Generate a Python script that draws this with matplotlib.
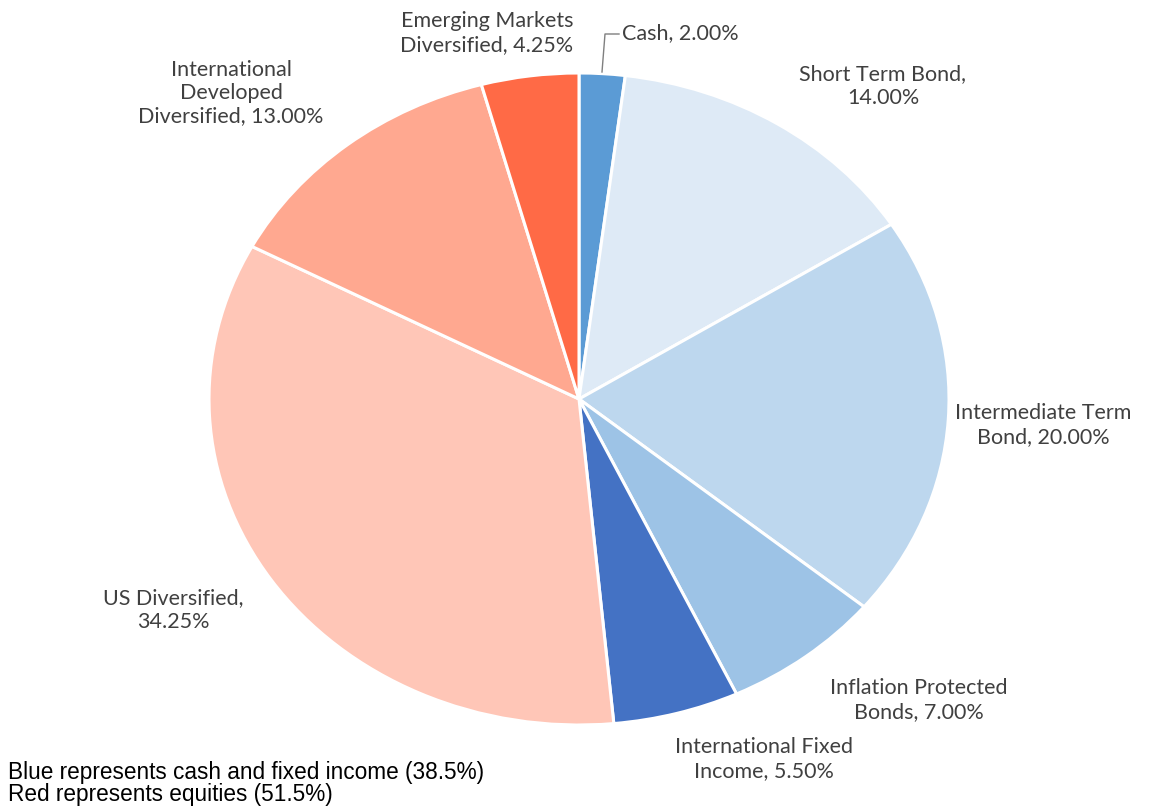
import matplotlib
matplotlib.use('Agg')
import matplotlib.pyplot as plt
from matplotlib.lines import Line2D

# slices, clockwise from 12 o'clock
names = ['Cash', 'Short Term Bond', 'Intermediate Term\nBond', 'Inflation Protected\nBonds',
         'International Fixed\nIncome', 'US Diversified', 'International\nDeveloped\nDiversified',
         'Emerging Markets\nDiversified']
seps = [', ', ',\n', ', ', ', ', ', ', ',\n', ', ', ', ']
values = [2.00, 14.00, 20.00, 7.00, 5.50, 34.25, 13.00, 4.25]
colors = ['#5B9BD5', '#DEEAF6', '#BDD7EE', '#9DC3E6', '#4472C4', '#FFC6B7', '#FFA890', '#FF6A46']

notes = ['Blue represents cash and fixed income (38.5%)', 'Red represents equities (51.5%)']

W, H = 1151, 806
cx, cy = 579, 399      # pie centre in pixels
rx, ry = 370, 326      # stretched like the original

fig = plt.figure(figsize=(W / 100, H / 100), dpi=100)
ax = fig.add_axes([0, 0, 1, 1])
ax.pie(values, colors=colors, startangle=90, counterclock=False,
       wedgeprops=dict(edgecolor='white', linewidth=2.2))
ax.set_aspect('auto')
ax.set_xlim(-cx / rx, (W - cx) / rx)
ax.set_ylim(-(H - cy) / ry, cy / ry)
ax.axis('off')

# label placement in pixels (centre of text block)
label_pos = [(622, 33), (883, 86), (1043, 425), (919, 700), (764, 759), (173, 610), (231, 93), (487, 33)]
lab_font = dict(family='Lato', fontsize=15.5, color='#404040', linespacing=1.2)
for i, (n, s, v) in enumerate(zip(names, seps, values)):
    x, y = label_pos[i]
    ha = 'left' if i == 0 else 'center'
    fig.text(x / W, 1 - y / H, f'{n}{s}{v:.2f}%', ha=ha, va='center',
             multialignment='center', **lab_font)

# leader line for Cash
fig.add_artist(Line2D([602 / W, 605 / W, 619 / W], [1 - 72 / H, 1 - 34 / H, 1 - 34 / H],
                      transform=fig.transFigure, color='#7f7f7f', lw=1))

for k, t in enumerate(notes):
    fig.text(8 / W, 1 - (772 + 23 * k) / H, t, ha='left', va='center',
             family='Liberation Sans', fontsize=16.3, color='black')

fig.savefig('out.png', dpi=100)
